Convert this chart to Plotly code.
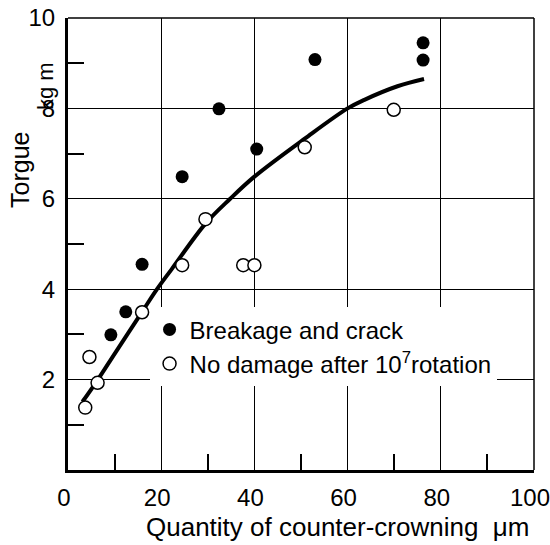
import plotly.graph_objects as go

# Data
breakage_x = [9.2, 12.4, 15.9, 24.5, 32.4, 40.5, 53.0, 76.2, 76.2]
breakage_y = [2.99, 3.5, 4.55, 6.49, 7.99, 7.1, 9.08, 9.45, 9.07]

nodamage_x = [3.7, 4.6, 6.35, 15.9, 24.5, 29.5, 37.6, 40.0, 50.8, 69.9]
nodamage_y = [1.38, 2.5, 1.93, 3.49, 4.53, 5.55, 4.53, 4.53, 7.14, 7.97]

curve_x = [3.1, 6.35, 10, 15.9, 19.1, 22.3, 29.5, 34.8, 40.0, 50.8, 60.0, 63.6, 70.7, 76.4]
curve_y = [1.51, 1.99, 2.57, 3.5, 4.0, 4.45, 5.45, 6.0, 6.49, 7.33, 8.0, 8.19, 8.49, 8.65]

x_ticks = [0, 20, 40, 60, 80, 100]
y_ticks = [2, 4, 6, 8, 10]
x_minor = [10, 30, 50, 70, 90]
y_minor = [1, 3, 5, 7, 9]

FONT = "Liberation Sans"

fig = go.Figure()
fig.add_trace(go.Scatter(
    x=curve_x, y=curve_y, mode="lines",
    line=dict(color="black", width=4, shape="spline", smoothing=1.0),
    showlegend=False, hoverinfo="skip"))
fig.add_trace(go.Scatter(
    x=breakage_x, y=breakage_y, mode="markers", name="Breakage and crack",
    marker=dict(symbol="circle", size=13, color="black", line=dict(width=0))))
fig.add_trace(go.Scatter(
    x=nodamage_x, y=nodamage_y, mode="markers",
    name="No damage after 10<sup>7</sup>rotation",
    marker=dict(symbol="circle", size=13, color="white", line=dict(color="black", width=1.5))))
# empty trace to carry the minor-tick overlay axes
fig.add_trace(go.Scatter(x=[], y=[], xaxis="x2", yaxis="y2", showlegend=False, hoverinfo="skip"))

fig.update_layout(
    width=550, height=545,
    margin=dict(l=68, r=16, t=18, b=75, autoexpand=False),
    paper_bgcolor="white", plot_bgcolor="white",
    font=dict(family=FONT, size=25, color="black"),
    legend=dict(x=0.175, y=0.36, xanchor="left", yanchor="top",
                bgcolor="white", borderwidth=0,
                font=dict(family=FONT, size=24, color="black"),
                itemwidth=30, tracegroupgap=0),
    xaxis=dict(
        range=[0, 100], tickvals=x_ticks, ticktext=[str(v) for v in x_ticks],
        ticks="", showgrid=True, gridcolor="black", gridwidth=1.2,
        showline=True, linecolor="black", linewidth=3, automargin=False,
        zeroline=False, ticklabelstandoff=4, ticklabelshift=-4,
        ticklabeloverflow="allow",
        tickfont=dict(family=FONT, size=24, color="black")),
    yaxis=dict(
        range=[0, 10], tickvals=y_ticks, ticktext=[str(v) for v in y_ticks],
        ticks="", showgrid=True, gridcolor="black", gridwidth=1.2,
        showline=True, linecolor="black", linewidth=3, automargin=False,
        zeroline=False, ticklabelstandoff=5, ticklabeloverflow="allow",
        tickfont=dict(family=FONT, size=24, color="black")),
    xaxis2=dict(
        range=[0, 100], overlaying="x", side="bottom", anchor="y2",
        tickvals=x_minor, showticklabels=False, ticks="inside", ticklen=16,
        tickwidth=1.5, tickcolor="black", showgrid=False, zeroline=False,
        showline=False, automargin=False),
    yaxis2=dict(
        range=[0, 10], overlaying="y", side="left", anchor="x2",
        tickvals=y_minor, showticklabels=False, ticks="inside", ticklen=16,
        tickwidth=1.5, tickcolor="black", showgrid=False, zeroline=False,
        showline=False, automargin=False),
)

# top and right frame lines (thinner)
fig.add_shape(type="line", xref="paper", yref="paper", x0=0, x1=1, y0=1, y1=1,
              line=dict(color="black", width=1.5))
fig.add_shape(type="line", xref="paper", yref="paper", x0=1, x1=1, y0=0, y1=1,
              line=dict(color="black", width=1.5))

# axis titles
fig.add_annotation(text="Quantity of counter-crowning  μm", xref="paper", yref="paper",
                   x=(337 - 68) / 466, y=-(527 - 470) / 452, xanchor="center", yanchor="middle",
                   showarrow=False, font=dict(family=FONT, size=26, color="black"))
fig.add_annotation(text="Torgue", xref="paper", yref="paper", textangle=-90,
                   x=(20 - 68) / 466, y=(470 - 170) / 452, xanchor="center", yanchor="middle",
                   showarrow=False, font=dict(family=FONT, size=25, color="black"))
fig.add_annotation(text="kg m", xref="paper", yref="paper", textangle=-90,
                   x=(45 - 68) / 466, y=(470 - 86) / 452, xanchor="center", yanchor="middle",
                   showarrow=False, font=dict(family=FONT, size=22, color="black"))

fig.write_html("out.html")
